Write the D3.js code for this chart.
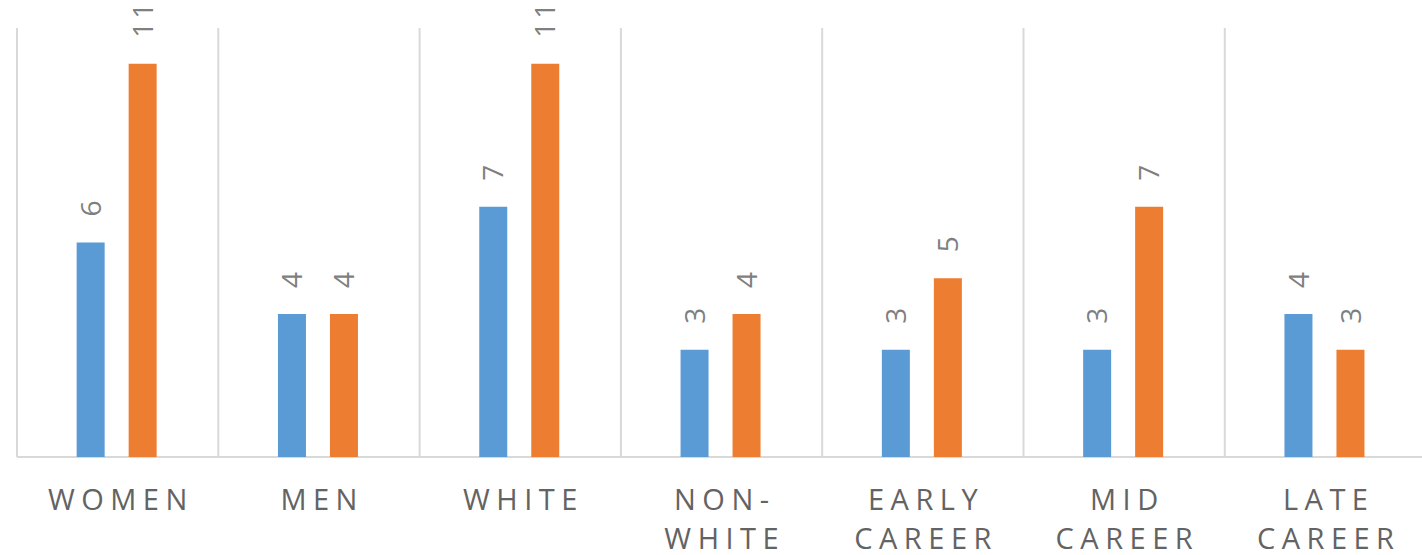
<!DOCTYPE html>
<html>
<head>
<meta charset="utf-8">
<script src="https://cdn.jsdelivr.net/npm/d3@7"></script>
<style>
  html, body { margin: 0; padding: 0; background: #fff; }
  svg { display: block; }
</style>
</head>
<body>
<svg id="chart" width="1422" height="555"></svg>
<script>
// Categories (each may wrap onto two lines)
const categories = ["WOMEN", "MEN", "WHITE", "NON-WHITE", "EARLY CAREER", "MID CAREER", "LATE CAREER"];
const categoryLines = [["WOMEN"], ["MEN"], ["WHITE"], ["NON-", "WHITE"], ["EARLY", "CAREER"], ["MID", "CAREER"], ["LATE", "CAREER"]];
// Two series of counts
const seriesNames = ["Series A", "Series B"];
const seriesA = [6, 4, 7, 3, 3, 3, 4];
const seriesB = [11, 4, 11, 4, 5, 7, 3];
const yMax = 12;

const colors = ["#5B9BD5", "#ED7D31"];

const svg = d3.select("#chart");
const plotLeft = 17, step = 201.3;
const plotTop = 28, baseline = 457;

const x = d3.scaleBand()
  .domain(categories)
  .range([plotLeft, plotLeft + step * categories.length])
  .padding(0);

// Pair of bars inside each category: 28px bars with a 24px gap
const inner = d3.scaleBand()
  .domain(seriesNames)
  .range([x.bandwidth() / 2 - 41, x.bandwidth() / 2 + 39])
  .paddingInner(0.4615)
  .paddingOuter(0);

const y = d3.scaleLinear().domain([0, yMax]).range([baseline, plotTop]);

// Vertical category separators
const seps = d3.range(categories.length + 1).map(i => plotLeft + step * i);
svg.append("g").selectAll("line").data(seps).join("line")
  .attr("x1", d => d).attr("x2", d => d)
  .attr("y1", y(yMax)).attr("y2", baseline)
  .attr("stroke", "#D9D9D9").attr("stroke-width", 2);

// Baseline
svg.append("line")
  .attr("x1", plotLeft).attr("x2", plotLeft + step * categories.length)
  .attr("y1", baseline).attr("y2", baseline)
  .attr("stroke", "#D9D9D9").attr("stroke-width", 2);

const rows = categories.map((c, i) => ({ c, vals: [seriesA[i], seriesB[i]] }));

const groups = svg.append("g").selectAll("g").data(rows).join("g")
  .attr("transform", d => `translate(${x(d.c)},0)`);

const bars = groups.selectAll("g.bar")
  .data(d => d.vals.map((v, j) => ({ v, s: seriesNames[j], j })))
  .join("g").attr("class", "bar");

bars.append("rect")
  .attr("x", d => inner(d.s))
  .attr("width", inner.bandwidth())
  .attr("y", d => y(d.v))
  .attr("height", d => baseline - y(d.v))
  .attr("fill", d => colors[d.j]);

// Rotated value labels above each bar
bars.append("text")
  .attr("transform", d => `translate(${inner(d.s) + inner.bandwidth() / 2},${y(d.v) - 26}) rotate(-90)`)
  .attr("dy", "0.36em")
  .attr("font-family", "'Open Sans', sans-serif")
  .attr("font-size", 28)
  .attr("letter-spacing", 3)
  .attr("fill", "#7F7F7F")
  .text(d => d.v);

// Category labels, letter-spaced, below the baseline
const ls = 6.5;
const labels = svg.append("g").selectAll("text").data(categories).join("text")
  .attr("x", d => x(d) + x.bandwidth() / 2 + ls / 2)
  .attr("y", 510)
  .attr("text-anchor", "middle")
  .attr("font-family", "'Open Sans', sans-serif")
  .attr("font-size", 29)
  .attr("letter-spacing", ls)
  .attr("fill", "#636363");

labels.selectAll("tspan").data((d, i) => categoryLines[i]).join("tspan")
  .attr("x", function() { return this.parentNode.getAttribute("x"); })
  .attr("dy", (d, i) => i === 0 ? 0 : 39)
  .text(d => d);
</script>
</body>
</html>
